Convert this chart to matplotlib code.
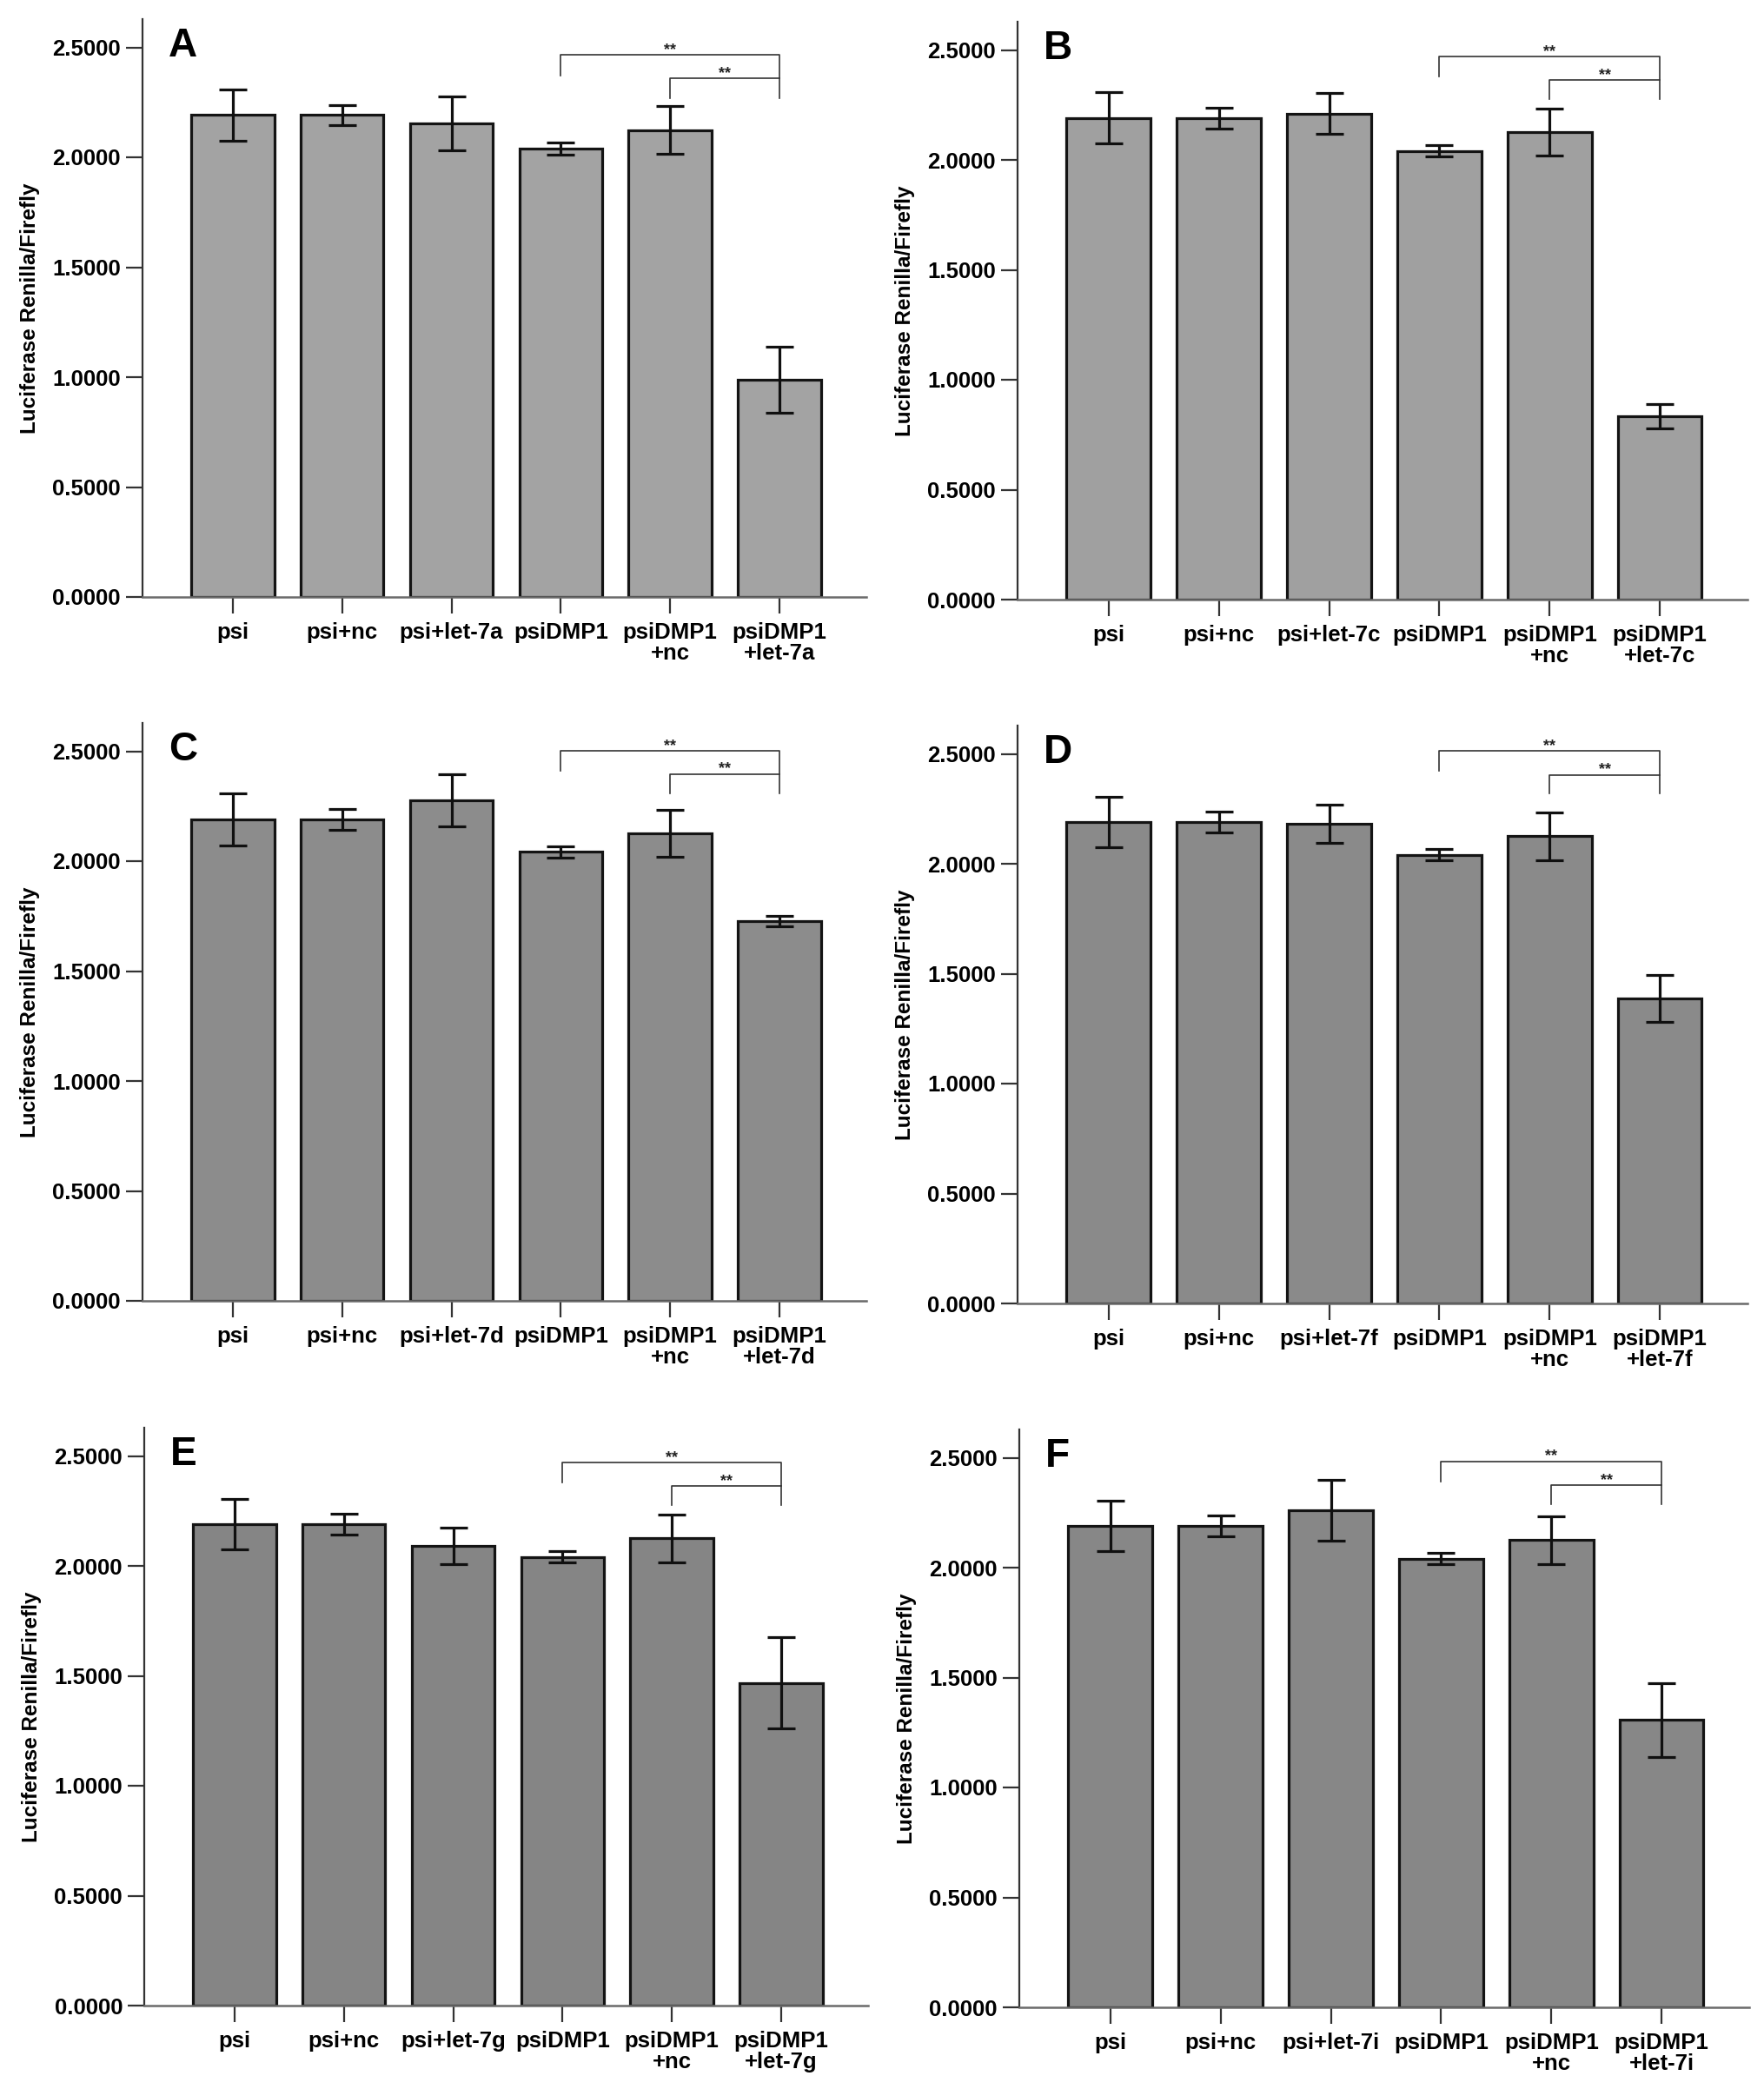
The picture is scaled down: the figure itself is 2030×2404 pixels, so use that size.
import matplotlib
matplotlib.use("Agg")
import matplotlib.pyplot as plt
import numpy as np

plt.rcParams['font.family'] = ['Liberation Sans', 'DejaVu Sans']
plt.rcParams['font.weight'] = 'bold'

panel_letters = ["A", "B", "C", "D", "E", "F"]
mirnas = ["let-7a", "let-7c", "let-7d", "let-7f", "let-7g", "let-7i"]

means_A = [2.192, 2.192, 2.153, 2.040, 2.124, 0.988]
errs_A = [0.118, 0.046, 0.122, 0.028, 0.108, 0.150]
means_B = [2.191, 2.191, 2.211, 2.041, 2.126, 0.835]
errs_B = [0.117, 0.048, 0.094, 0.026, 0.108, 0.055]
means_C = [2.190, 2.190, 2.277, 2.042, 2.127, 1.728]
errs_C = [0.117, 0.046, 0.117, 0.026, 0.108, 0.024]
means_D = [2.190, 2.190, 2.181, 2.040, 2.125, 1.388]
errs_D = [0.115, 0.046, 0.088, 0.026, 0.108, 0.108]
means_E = [2.190, 2.190, 2.089, 2.040, 2.125, 1.468]
errs_E = [0.115, 0.046, 0.083, 0.026, 0.108, 0.208]
means_F = [2.190, 2.190, 2.261, 2.040, 2.125, 1.307]
errs_F = [0.115, 0.046, 0.139, 0.026, 0.108, 0.168]

# significance brackets (data units): outer line, outer left leg end, inner line, inner legs end
bracket_outer = [2.465, 2.469, 2.502, 2.512, 2.469, 2.484]
bracket_outer_leg = [2.373, 2.378, 2.413, 2.423, 2.378, 2.392]
bracket_inner = [2.359, 2.363, 2.396, 2.404, 2.362, 2.376]
bracket_inner_leg = [2.269, 2.276, 2.309, 2.319, 2.276, 2.290]
sig_label = "**"

yticks = [0.0, 0.5, 1.0, 1.5, 2.0, 2.5]
ylabel = "Luciferase Renilla/Firefly"

all_means = [means_A, means_B, means_C, means_D, means_E, means_F]
all_errs = [errs_A, errs_B, errs_C, errs_D, errs_E, errs_F]
bar_colors = ["#a3a3a3", "#a0a0a0", "#8c8c8c", "#8a8a8a", "#858585", "#878787"]

W, H = 2031, 2404
fig = plt.figure(figsize=(W / 100, H / 100), dpi=100)

# axes geometry in pixels: (left, right, y of zero line)
geom = [(164, 997, 687), (1171, 2011, 690),
        (164, 997, 1497), (1171, 2011, 1500),
        (166, 999, 2308), (1173, 2013, 2310)]
YTOP = 2.63
PX_PER_UNIT = 253.0

for i in range(6):
    l, r, y0 = geom[i]
    h_px = YTOP * PX_PER_UNIT
    ax = fig.add_axes([l / W, 1 - y0 / H, (r - l) / W, h_px / H])
    labels = ["psi", "psi+nc", "psi+" + mirnas[i], "psiDMP1",
              "psiDMP1\n+nc", "psiDMP1\n+" + mirnas[i]]
    x = np.arange(len(labels))
    ax.bar(x, all_means[i], width=0.76, color=bar_colors[i],
           edgecolor="#141414", linewidth=2.3, zorder=2)
    ax.errorbar(x, all_means[i], yerr=all_errs[i], fmt="none",
                ecolor="#101010", elinewidth=2.3, capsize=11.5,
                capthick=2.3, zorder=3)
    ax.set_xlim(-0.825, 5.794)
    ax.set_ylim(0, YTOP)
    ax.set_yticks(yticks)
    ax.set_yticklabels(["%.4f" % v for v in yticks])
    ax.set_xticks(x)
    ax.set_xticklabels(labels, linespacing=1.0)
    for s in ["top", "right"]:
        ax.spines[s].set_visible(False)
    ax.spines["left"].set_color("#333333")
    ax.spines["left"].set_linewidth(1.6)
    ax.spines["bottom"].set_color("#6a6a6a")
    ax.spines["bottom"].set_linewidth(1.8)
    ax.tick_params(axis="y", direction="out", length=14, width=1.6,
                   color="#333333", labelsize=18.5, pad=4)
    ax.tick_params(axis="x", direction="out", length=14, width=1.6,
                   color="#333333", labelsize=18.5, pad=7)
    ax.set_ylabel(ylabel, fontsize=17.5, fontweight="bold", va="center")
    ax.yaxis.set_label_coords(-129 / (r - l), 0.5)

    # panel letter
    ax.text(-0.825 + 30 / 126.0, 2.46, panel_letters[i], fontsize=33,
            fontweight="bold", ha="left", va="baseline")

    # significance brackets
    xa, xb, xc = x[3], x[4], x[5]
    lc = "#333333"
    lw = 1.2
    ax.plot([xa, xa, xc, xc],
            [bracket_outer_leg[i], bracket_outer[i], bracket_outer[i], bracket_inner_leg[i]],
            color=lc, lw=lw, zorder=4)
    ax.plot([xb, xb, xc],
            [bracket_inner_leg[i], bracket_inner[i], bracket_inner[i]],
            color=lc, lw=lw, zorder=4)
    ax.text((xa + xc) / 2, bracket_outer[i] + 0.005, sig_label, fontsize=13,
            fontweight="bold", ha="center", va="baseline", color="#222222")
    ax.text((xb + xc) / 2, bracket_inner[i] + 0.005, sig_label, fontsize=13,
            fontweight="bold", ha="center", va="baseline", color="#222222")

fig.savefig("out.png", dpi=100, facecolor="white")
